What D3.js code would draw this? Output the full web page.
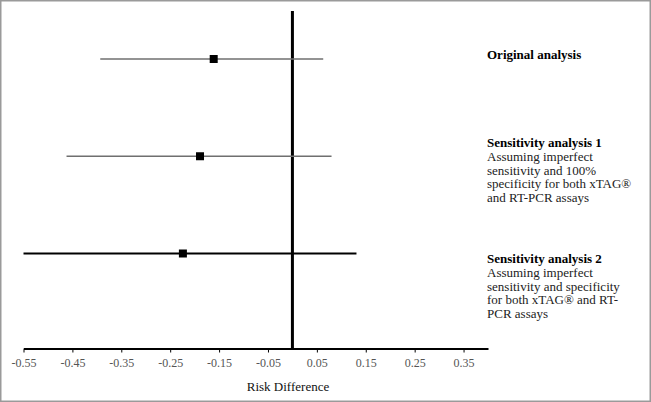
<!DOCTYPE html>
<html>
<head>
<meta charset="utf-8">
<script src="https://cdn.jsdelivr.net/npm/d3@7"></script>
<style>
  html, body { margin: 0; padding: 0; background: #fff; }
  svg { display: block; font-family: "Liberation Serif", "DejaVu Serif", serif; }
</style>
</head>
<body>
<div id="chart"></div>
<script>
// data
const analyses = ["Original analysis", "Sensitivity analysis 1", "Sensitivity analysis 2"];
const estimates = [-0.161, -0.189, -0.224];
const lowerCI = [-0.393, -0.462, -0.55];
const upperCI = [0.063, 0.080, 0.131];
const notes = [
  [],
  ["Assuming imperfect", "sensitivity and 100%", "specificity for both xTAG\u00AE", "and RT-PCR assays"],
  ["Assuming imperfect", "sensitivity and specificity", "for both xTAG\u00AE and RT-", "PCR assays"]
];
const tickValues = [-0.55, -0.45, -0.35, -0.25, -0.15, -0.05, 0.05, 0.15, 0.25, 0.35];

const width = 651, height = 402;
const labelTop = [58.5, 147, 263];  // baseline of each bold heading
const lineGap = 13.8;

const svg = d3.select("#chart").append("svg")
  .attr("width", width).attr("height", height);

svg.append("rect")
  .attr("x", 0.75).attr("y", 0.75)
  .attr("width", width - 1.5).attr("height", height - 1.5)
  .attr("fill", "#fff").attr("stroke", "#9a9a9a").attr("stroke-width", 1.5);

const x = d3.scaleLinear().domain([-0.55, 0.40]).range([23.5, 488]);
const y = d3.scalePoint().domain(analyses).range([59, 253.5]);
const axisY = 348.5;

// x axis
const xAxis = d3.axisBottom(x).tickValues(tickValues).tickSize(4).tickSizeOuter(0)
  .tickFormat(d => d3.format(".2f")(d).replace("\u2212", "-"));
const gx = svg.append("g").attr("transform", `translate(0,${axisY})`).call(xAxis);
gx.select(".domain").attr("stroke", "#000").attr("stroke-width", 2);
gx.selectAll(".tick line").attr("stroke", "#000").attr("stroke-width", 1);
gx.selectAll(".tick text")
  .attr("y", 14.5).attr("dy", "0.32em")
  .attr("fill", "#555").style("font-size", "12px")
  .style("font-family", "Liberation Serif, serif");

svg.append("text")
  .attr("x", 288).attr("y", 390.5).attr("text-anchor", "middle")
  .style("font-size", "13px").attr("fill", "#111")
  .text("Risk Difference");

// no-effect line
svg.append("line")
  .attr("x1", x(0)).attr("x2", x(0))
  .attr("y1", 11).attr("y2", axisY)
  .attr("stroke", "#000").attr("stroke-width", 3);

const rows = analyses.map((a, i) => ({
  name: a, est: estimates[i], lo: lowerCI[i], hi: upperCI[i], notes: notes[i], i
}));

// confidence intervals
svg.selectAll("line.ci")
  .data(rows).enter().append("line")
  .attr("class", "ci")
  .attr("x1", d => x(d.lo)).attr("x2", d => x(d.hi))
  .attr("y1", d => y(d.name)).attr("y2", d => y(d.name))
  .attr("stroke", d => d.i === 2 ? "#000" : "#6f6f6f")
  .attr("stroke-width", d => d.i === 2 ? 2 : 1.4);

// point estimates
const sq = 8;
svg.selectAll("rect.pt")
  .data(rows).enter().append("rect")
  .attr("class", "pt")
  .attr("x", d => x(d.est) - sq / 2).attr("y", d => y(d.name) - sq / 2)
  .attr("width", sq).attr("height", sq)
  .attr("fill", "#000");

// labels on the right
const lab = svg.selectAll("g.lab")
  .data(rows).enter().append("g")
  .attr("class", "lab")
  .attr("transform", d => `translate(487,${labelTop[d.i]})`);

lab.append("text")
  .style("font-size", "13px").style("font-weight", "bold").attr("fill", "#000")
  .text(d => d.name);

lab.selectAll("text.note")
  .data(d => d.notes).enter().append("text")
  .attr("class", "note")
  .attr("y", (d, j) => (j + 1) * lineGap)
  .style("font-size", "13px").attr("fill", "#222")
  .text(d => d);
</script>
</body>
</html>
